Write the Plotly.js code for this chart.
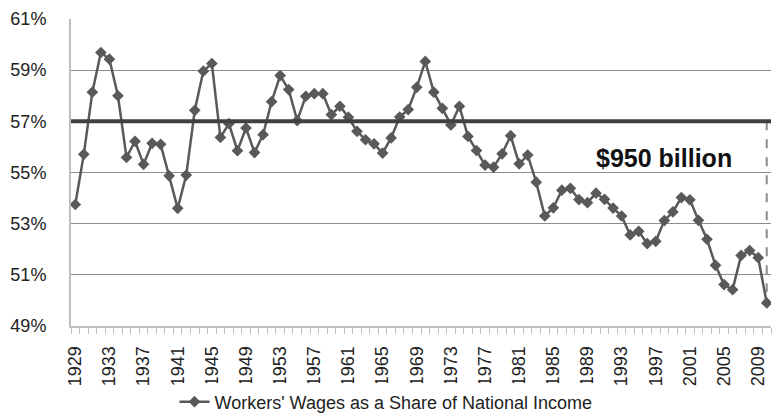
<!DOCTYPE html>
<html>
<head>
<meta charset="utf-8">
<script src="https://cdn.plot.ly/plotly-3.0.1.min.js"></script>
<style>html,body{margin:0;padding:0;background:#fff;}#chart{width:772px;height:417px;}</style>
</head>
<body>
<div id="chart"></div>
<script>
const years = [1929,1930,1931,1932,1933,1934,1935,1936,1937,1938,1939,1940,1941,1942,1943,1944,1945,1946,1947,1948,1949,1950,1951,1952,1953,1954,1955,1956,1957,1958,1959,1960,1961,1962,1963,1964,1965,1966,1967,1968,1969,1970,1971,1972,1973,1974,1975,1976,1977,1978,1979,1980,1981,1982,1983,1984,1985,1986,1987,1988,1989,1990,1991,1992,1993,1994,1995,1996,1997,1998,1999,2000,2001,2002,2003,2004,2005,2006,2007,2008,2009,2010];
const wageShare = [53.75,55.71,58.14,59.69,59.43,58.0,55.59,56.22,55.32,56.14,56.1,54.87,53.6,54.9,57.43,58.96,59.26,56.37,56.91,55.85,56.74,55.78,56.48,57.77,58.79,58.24,57.03,57.98,58.08,58.08,57.26,57.59,57.16,56.61,56.28,56.12,55.76,56.35,57.17,57.46,58.33,59.34,58.14,57.51,56.86,57.59,56.41,55.86,55.29,55.21,55.73,56.44,55.34,55.68,54.62,53.30,53.62,54.31,54.38,53.94,53.82,54.19,53.95,53.61,53.30,52.56,52.70,52.22,52.31,53.12,53.46,54.02,53.93,53.13,52.39,51.37,50.62,50.42,51.76,51.95,51.67,49.90];
const tickYears = [1929,1933,1937,1941,1945,1949,1953,1957,1961,1965,1969,1973,1977,1981,1985,1989,1993,1997,2001,2005,2009];
const yTicks = [49,51,53,55,57,59,61];
const referenceLevel = 57;
const seriesName = "Workers' Wages as a Share of National Income";
const gapLabel = "$950 billion";

const lastYear = years[years.length-1];
const lastVal = wageShare[wageShare.length-1];
const FONT = '"Liberation Sans", Arial, sans-serif';
const C = '#595959';

const trace = {
  x: years, y: wageShare, type: 'scatter', mode: 'lines+markers',
  name: seriesName,
  line: {color: C, width: 2.5},
  marker: {symbol: 'diamond', size: 9, color: C}
};

const layout = {
  width: 772, height: 417,
  margin: {l: 71, r: 1, t: 19, b: 91},
  paper_bgcolor: '#fff', plot_bgcolor: '#fff',
  font: {family: FONT, size: 18, color: '#000'},
  showlegend: true,
  legend: {orientation: 'h', xref: 'container', yref: 'container', x: 0.5, xanchor: 'center',
           y: 0.036, yanchor: 'middle', itemwidth: 30,
           font: {family: FONT, size: 18, color: '#222'}},
  xaxis: {
    range: [years[0]-0.5, lastYear+0.5], automargin: false,
    tickmode: 'array', tickvals: tickYears, ticktext: tickYears.map(String),
    tickangle: -90, ticks: '', showgrid: false, zeroline: false,
    showline: true, linecolor: '#bfbfbf', linewidth: 2,
    ticklabelstandoff: 11,
    minor: {ticks: 'outside', tick0: years[0]-0.5, dtick: 1, ticklen: 6, tickcolor: '#bfbfbf', tickwidth: 1, showgrid: false},
    tickfont: {family: FONT, size: 18, color: '#222'}
  },
  yaxis: {
    range: [yTicks[0], yTicks[yTicks.length-1]], automargin: false,
    tickmode: 'array', tickvals: yTicks, ticktext: yTicks.map(v => v + '%'),
    showgrid: true, gridcolor: '#8c8c8c', gridwidth: 1,
    zeroline: false, showline: true, linecolor: '#bfbfbf', linewidth: 2,
    ticks: '', ticklabelstandoff: 19,
    tickfont: {family: FONT, size: 18, color: '#222'}
  },
  shapes: [
    {type: 'line', xref: 'paper', yref: 'y', x0: 0, x1: 1, y0: referenceLevel, y1: referenceLevel,
     line: {color: '#404040', width: 4}, layer: 'above'},
    {type: 'line', xref: 'x', yref: 'y', x0: lastYear, x1: lastYear, y0: referenceLevel, y1: lastVal,
     line: {color: '#8c8c8c', width: 2, dash: 'dash'}, layer: 'below'}
  ],
  annotations: [
    {x: 1998, y: 55.55, xref: 'x', yref: 'y', text: '<b>' + gapLabel + '</b>', showarrow: false,
     xanchor: 'center', yanchor: 'middle', font: {family: FONT, size: 25, color: '#111'}}
  ]
};

Plotly.newPlot('chart', [trace], layout, {displayModeBar: false, staticPlot: true});
</script>
</body>
</html>
